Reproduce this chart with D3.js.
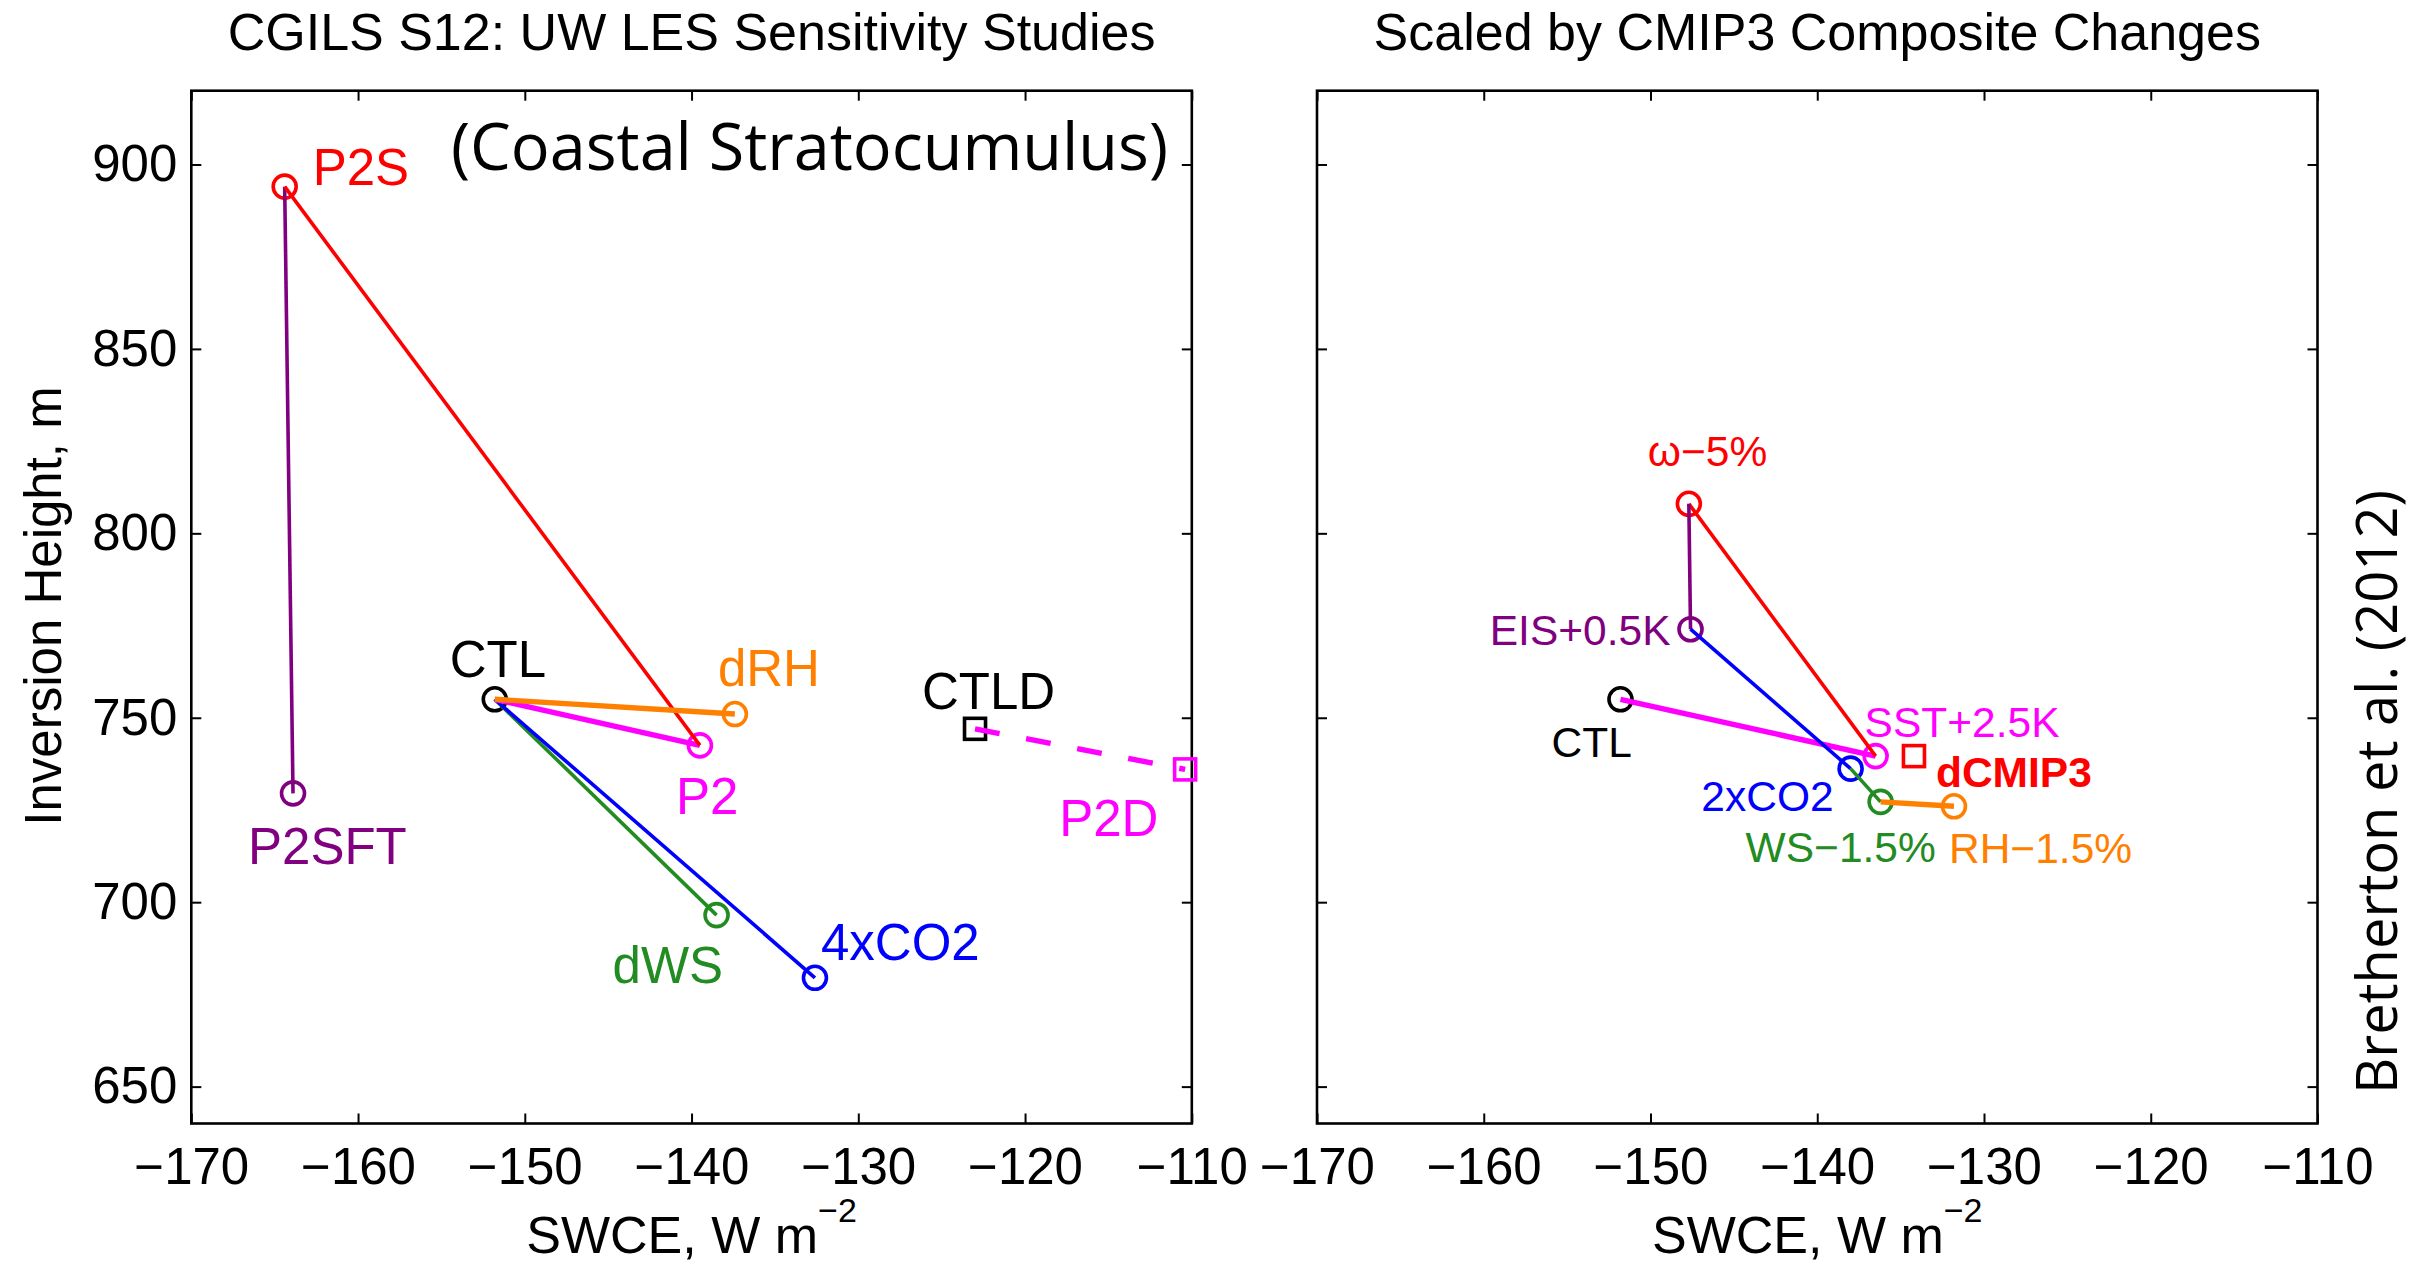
<!DOCTYPE html>
<html>
<head>
<meta charset="utf-8">
<script src="https://d3js.org/d3.v7.min.js"></script>
<style>
  html, body { margin: 0; padding: 0; background: #fff; }
  svg { display: block; }
</style>
</head>
<body>
<svg id="chart" width="2417" height="1264"></svg>
<script>
// ---------------- DATA ----------------
const xTicks = [-170, -160, -150, -140, -130, -120, -110];
const yTicks = [650, 700, 750, 800, 850, 900];
const xDomain = [-170, -110];
const yDomain = [640, 920];

// Left panel: UW LES sensitivity studies
const leftNames  = ["CTL", "P2", "dRH", "dWS", "4xCO2", "P2S", "P2SFT", "CTLD", "P2D"];
const leftSWCE   = [-151.8, -139.5, -137.4, -138.5, -132.6, -164.4, -163.9, -123.0, -110.4];
const leftZi     = [755.0, 742.5, 751.0, 696.5, 679.5, 894.0, 729.5, 747.0, 736.0];
const leftColors = ["black", "magenta", "orange", "green", "blue", "red", "purple", "black", "magenta"];
const leftShapes = ["circle", "circle", "circle", "circle", "circle", "circle", "circle", "square", "square"];
// segments: [from, to, color, style]
const leftLinks = [
  ["P2S", "P2SFT", "purple", "thin"],
  ["CTL", "dWS", "green", "thin"],
  ["CTL", "4xCO2", "blue", "thin"],
  ["CTL", "P2", "magenta", "thick"],
  ["P2S", "P2", "red", "thin"],
  ["CTL", "dRH", "orange", "thick"],
  ["CTLD", "P2D", "magenta", "dashed"]
];

// Right panel: scaled by CMIP3 composite changes
const rightNames  = ["CTL", "SST+2.5K", "ω−5%", "EIS+0.5K", "2xCO2", "WS−1.5%", "RH−1.5%", "dCMIP3"];
const rightSWCE   = [-151.8, -136.5, -147.7, -147.6, -138.0, -136.2, -131.8, -134.2];
const rightZi     = [755.0, 739.6, 808.0, 774.0, 736.2, 727.2, 726.0, 739.6];
const rightColors = ["black", "magenta", "red", "purple", "blue", "green", "orange", "red"];
const rightShapes = ["circle", "circle", "circle", "circle", "circle", "circle", "circle", "square"];
const rightLinks = [
  ["CTL", "SST+2.5K", "magenta", "thick"],
  ["SST+2.5K", "ω−5%", "red", "thin"],
  ["ω−5%", "EIS+0.5K", "purple", "thin"],
  ["EIS+0.5K", "2xCO2", "blue", "thin"],
  ["2xCO2", "WS−1.5%", "green", "thin"],
  ["WS−1.5%", "RH−1.5%", "orange", "thick"]
];

const titles = ["CGILS S12: UW LES Sensitivity Studies", "Scaled by CMIP3 Composite Changes"];
const xLabelMain = "SWCE, W m";
const xLabelSup = "−2";
const yLabel = "Inversion Height, m";
const insetNote = "(Coastal Stratocumulus)";
const sideNote = "Bretherton et al. (2012)";

// ---------------- STYLE / LAYOUT ----------------
const colorMap = {
  black: "#000000", magenta: "#FF00FF", orange: "#FF8000", green: "#228B22",
  blue: "#0000FF", red: "#FF0000", purple: "#800080"
};
const HELV = "'Liberation Sans', Arial, Helvetica, sans-serif";
const CAL = "'Open Sans', 'Noto Sans', sans-serif";

// label placement (pixel offsets from the marker), layout only
const leftLabelPos = {
  "CTL":   {dx: -45, dy: -22, a: "start"},
  "P2":    {dx: -24, dy: 69,  a: "start"},
  "dRH":   {dx: -17, dy: -28, a: "start"},
  "dWS":   {dx: -104, dy: 68, a: "start"},
  "4xCO2": {dx: 6,   dy: -18, a: "start"},
  "P2S":   {dx: 28,  dy: -2,  a: "start"},
  "P2SFT": {dx: -45, dy: 71,  a: "start"},
  "CTLD":  {dx: -53, dy: -20, a: "start"},
  "P2D":   {dx: -126, dy: 67, a: "start"}
};
const rightLabelPos = {
  "CTL":      {dx: -69, dy: 58,  a: "start", bold: false},
  "SST+2.5K": {dx: -11, dy: -19, a: "start", bold: false},
  "ω−5%":     {dx: -41, dy: -38, a: "start", bold: false},
  "EIS+0.5K": {dx: -20, dy: 16,  a: "end",   bold: false},
  "2xCO2":    {dx: -17, dy: 42,  a: "end",   bold: false},
  "WS−1.5%":  {dx: -135, dy: 60, a: "start", bold: false},
  "RH−1.5%":  {dx: -5,  dy: 57,  a: "start", bold: false},
  "dCMIP3":   {dx: 22,  dy: 31,  a: "start", bold: true}
};

const yTop = 90.7, yBot = 1123.5;
const panels = [
  {x0: 191.3, x1: 1191.8},
  {x0: 1317.0, x1: 2317.5}
];

const svg = d3.select("#chart");
svg.append("rect").attr("width", 2417).attr("height", 1264).attr("fill", "#fff");

function drawPanel(p, idx, names, xs, ys, colors, shapes, links, labelPos, labelSize) {
  const x = d3.scaleLinear().domain(xDomain).range([p.x0, p.x1]);
  const y = d3.scaleLinear().domain(yDomain).range([yBot, yTop]);
  const g = svg.append("g");

  // axes
  const fmt = d3.format("");
  const ax = [
    g.append("g").attr("transform", `translate(0,${yBot})`)
      .call(d3.axisBottom(x).tickValues(xTicks).tickSizeInner(-10).tickSizeOuter(0).tickPadding(24).tickFormat(fmt)),
    g.append("g").attr("transform", `translate(0,${yTop})`)
      .call(d3.axisTop(x).tickValues(xTicks).tickSizeInner(-10).tickSizeOuter(0).tickFormat("")),
    g.append("g").attr("transform", `translate(${p.x0},0)`)
      .call(d3.axisLeft(y).tickValues(yTicks).tickSizeInner(-10).tickSizeOuter(0).tickPadding(14)
        .tickFormat(idx === 0 ? fmt : "")),
    g.append("g").attr("transform", `translate(${p.x1},0)`)
      .call(d3.axisRight(y).tickValues(yTicks).tickSizeInner(-10).tickSizeOuter(0).tickFormat(""))
  ];
  ax.forEach(a => {
    a.select(".domain").remove();
    a.selectAll(".tick line").attr("stroke", "#000").attr("stroke-width", 2);
    a.selectAll(".tick text").attr("font-family", HELV).attr("font-size", 51).attr("fill", "#000");
  });
  g.append("rect").attr("x", p.x0).attr("y", yTop)
    .attr("width", p.x1 - p.x0).attr("height", yBot - yTop)
    .attr("fill", "none").attr("stroke", "#000").attr("stroke-width", 2.6);

  const idxOf = n => names.indexOf(n);

  // markers
  names.forEach((n, i) => {
    const cx = x(xs[i]), cy = y(ys[i]);
    const c = colorMap[colors[i]];
    if (shapes[i] === "circle") {
      g.append("circle").attr("cx", cx).attr("cy", cy).attr("r", 11.5)
        .attr("fill", "none").attr("stroke", c).attr("stroke-width", 3.6);
    } else {
      g.append("rect").attr("x", cx - 10.5).attr("y", cy - 10.5).attr("width", 21).attr("height", 21)
        .attr("fill", "none").attr("stroke", c).attr("stroke-width", 3.6);
    }
  });

  // connecting lines
  const line = d3.line().x(d => x(d[0])).y(d => y(d[1]));
  links.forEach(l => {
    const a = idxOf(l[0]), b = idxOf(l[1]);
    const path = g.append("path")
      .attr("d", line([[xs[a], ys[a]], [xs[b], ys[b]]]))
      .attr("fill", "none").attr("stroke", colorMap[l[2]])
      .attr("stroke-width", l[3] === "thin" ? 3.6 : 5.4);
    if (l[3] === "dashed") path.attr("stroke-dasharray", "25,27");
  });

  // labels
  names.forEach((n, i) => {
    const lp = labelPos[n];
    g.append("text").attr("x", x(xs[i]) + lp.dx).attr("y", y(ys[i]) + lp.dy)
      .attr("text-anchor", lp.a).attr("font-family", HELV).attr("font-size", labelSize)
      .attr("font-weight", lp.bold ? "bold" : "normal")
      .attr("fill", colorMap[colors[i]]).text(n);
  });

  // title
  svg.append("text").attr("x", (p.x0 + p.x1) / 2).attr("y", 50)
    .attr("text-anchor", "middle").attr("font-family", HELV).attr("font-size", 52)
    .attr("fill", "#000").text(titles[idx]);

  // x label
  const xl = svg.append("text").attr("x", (p.x0 + p.x1) / 2).attr("y", 1253)
    .attr("text-anchor", "middle").attr("font-family", HELV).attr("font-size", 52).attr("fill", "#000");
  xl.append("tspan").text(xLabelMain);
  xl.append("tspan").attr("dy", -31).attr("font-size", 34).text(xLabelSup);
}

drawPanel(panels[0], 0, leftNames, leftSWCE, leftZi, leftColors, leftShapes, leftLinks, leftLabelPos, 51);
drawPanel(panels[1], 1, rightNames, rightSWCE, rightZi, rightColors, rightShapes, rightLinks, rightLabelPos, 42.5);

// y label
svg.append("text").attr("transform", "translate(61,606) rotate(-90)")
  .attr("text-anchor", "middle").attr("font-family", HELV).attr("font-size", 51)
  .attr("fill", "#000").text(yLabel);

// inset note
svg.append("text").attr("x", 451).attr("y", 170)
  .attr("font-family", CAL).attr("font-size", 66).attr("fill", "#000")
  .attr("textLength", 717).attr("lengthAdjust", "spacingAndGlyphs").text(insetNote);

// side note
svg.append("text").attr("transform", "translate(2397,792) rotate(-90)")
  .attr("text-anchor", "middle").attr("font-family", CAL).attr("font-size", 56)
  .attr("fill", "#000").attr("textLength", 604).attr("lengthAdjust", "spacingAndGlyphs").text(sideNote);
</script>
</body>
</html>
